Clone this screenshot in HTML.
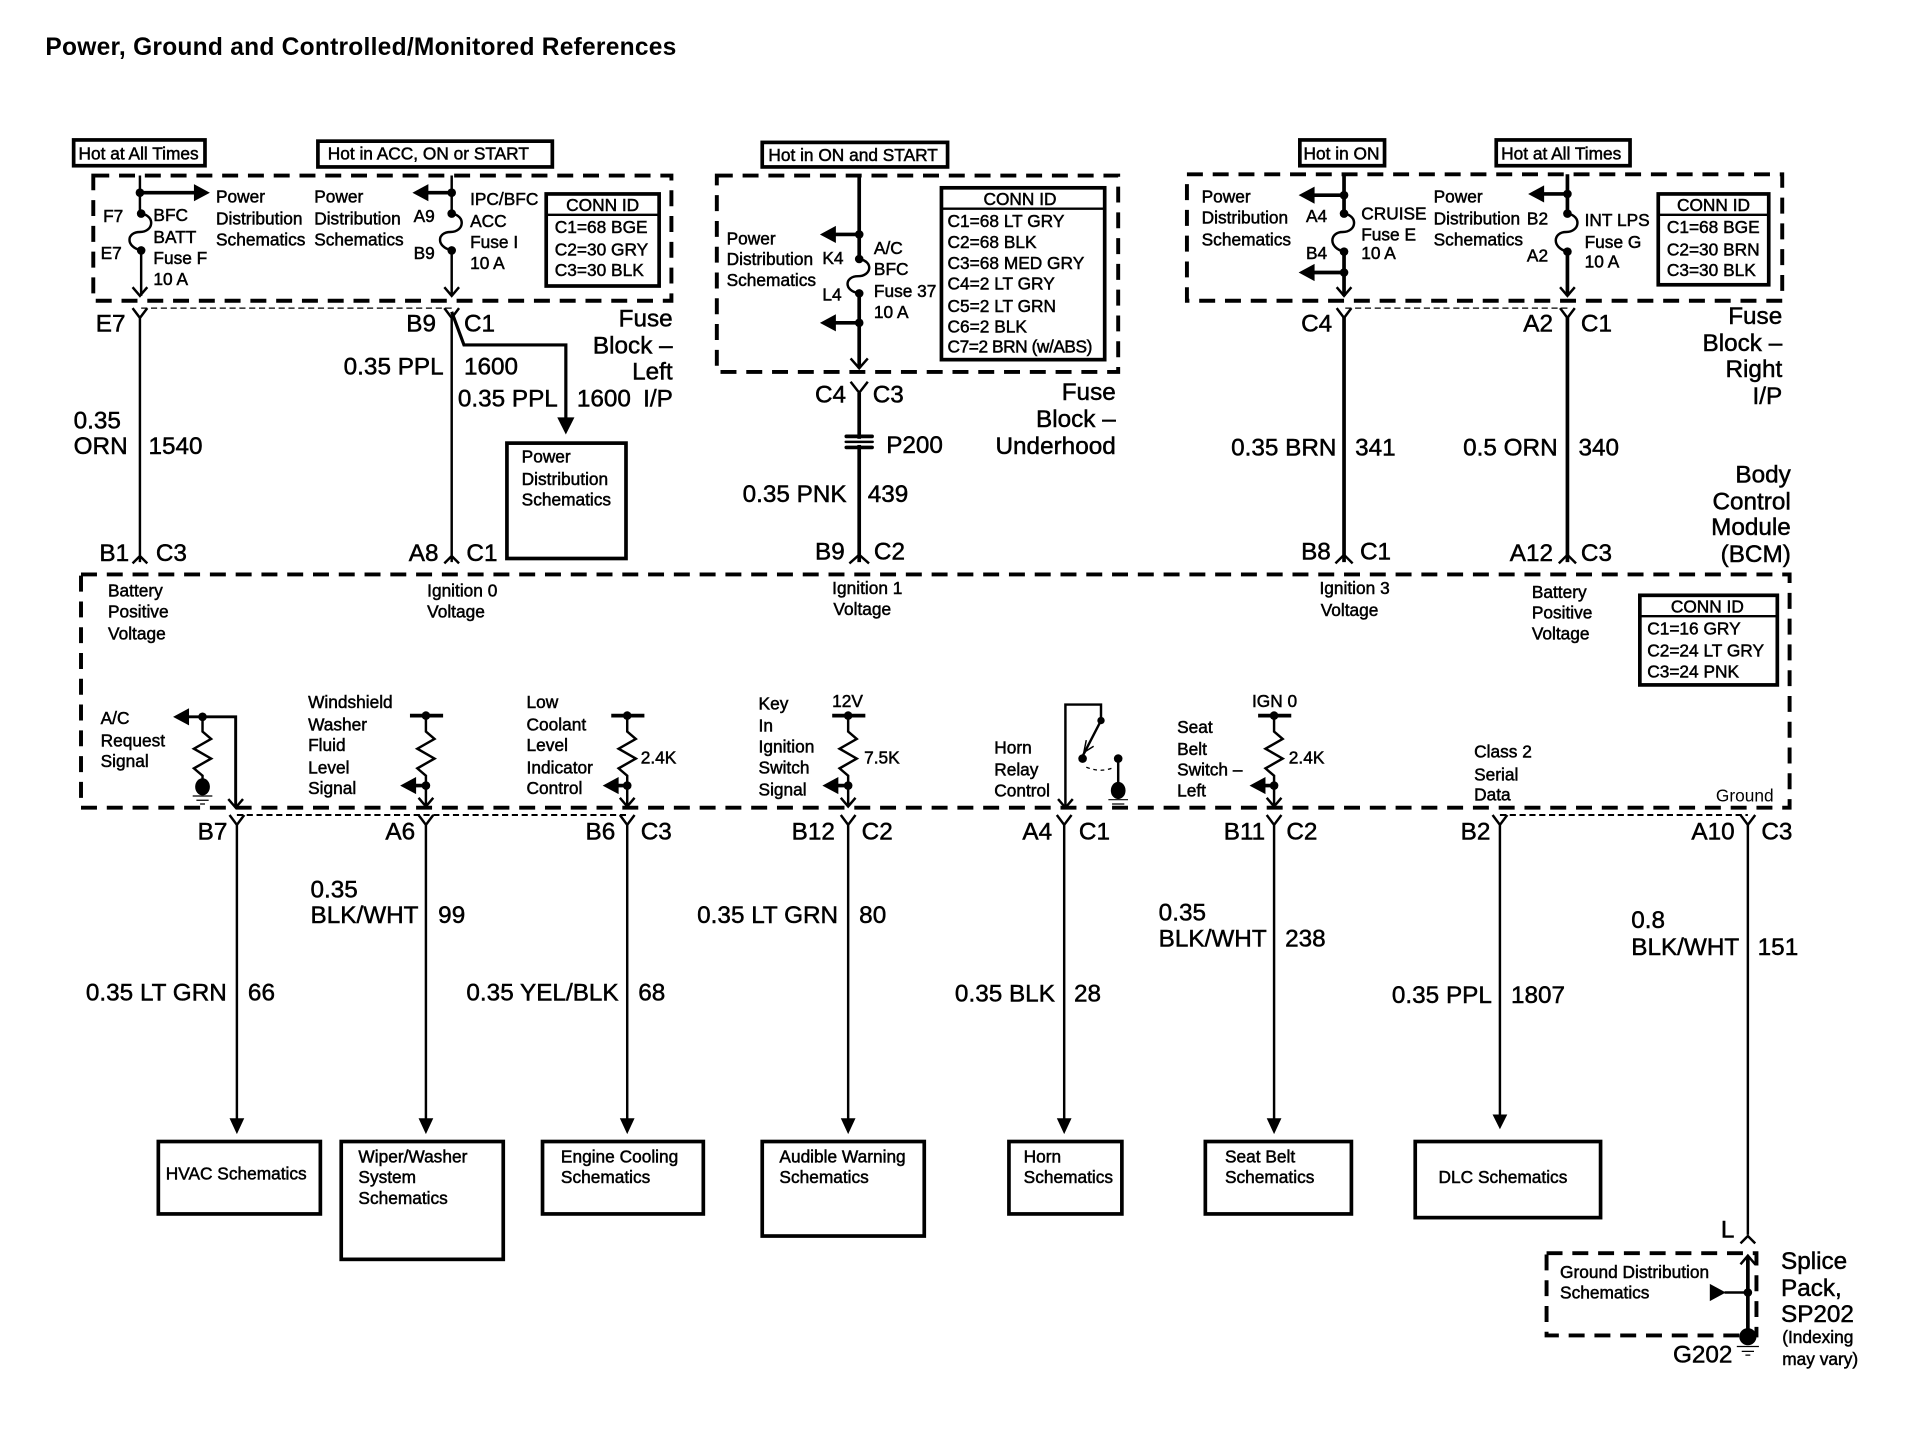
<!DOCTYPE html>
<html><head><meta charset="utf-8"><title>Power, Ground and Controlled/Monitored References</title>
<style>
html,body{margin:0;padding:0;background:#fff}
svg{display:block}
text{font-family:"Liberation Sans",sans-serif;fill:#000;stroke:#000;stroke-width:.4}
.s{font-size:14.1px}
.l{font-size:19.8px}
.e{text-anchor:end}
.c{text-anchor:middle}
.w{fill:none;stroke:#000;stroke-width:2}
.t{fill:none;stroke:#000;stroke-width:3}
.b{fill:#fff;stroke:#000;stroke-width:3}
.d{fill:none;stroke:#000;stroke-width:3.2;stroke-dasharray:13 8}
.h{fill:none;stroke:#000;stroke-width:1;stroke-dasharray:5 3}
</style></head><body>
<svg xmlns="http://www.w3.org/2000/svg" width="1924" height="1456" viewBox="0 0 1567.500 1186.200">
<rect width="1568" height="1187" fill="#fff"/>
<text x="37" y="45" font-size="20" font-weight="bold" textLength="514" style="stroke-width:0">Power, Ground and Controlled/Monitored References</text>

<!-- header boxes -->
<rect class="b" x="60" y="114" width="107" height="21"/><text class="s" x="64" y="130">Hot at All Times</text>
<rect class="b" x="259" y="115" width="191" height="21"/><text class="s" x="267" y="130">Hot in ACC, ON or START</text>
<rect class="b" x="621" y="116" width="151" height="20"/><text class="s" x="626" y="131">Hot in ON and START</text>
<rect class="b" x="1059" y="114" width="69" height="21"/><text class="s" x="1062" y="130">Hot in ON</text>
<rect class="b" x="1219" y="114" width="109" height="21"/><text class="s" x="1223" y="130">Hot at All Times</text>

<!-- dashed enclosures -->
<rect class="d" x="76" y="143" width="471" height="102"/>
<rect class="d" x="584" y="143" width="327" height="160"/>
<rect class="d" x="967" y="142" width="485" height="103"/>
<rect class="d" x="66" y="468" width="1392" height="190"/>
<rect class="d" x="1260" y="1021" width="171" height="67" stroke-dasharray="12 8"/>
<path class="h" d="M115 251H368M1096 251H1277"/>
<path class="h" style="stroke-width:1.6" d="M193 664H511M1222 664H1424"/>

<!-- fuse block left -->
<path class="w" d="M114 143V174M115 204V241M108 234L114 241L120 234"/>
<circle cx="114" cy="157" r="3.5"/><circle cx="115" cy="174" r="3.5"/><circle cx="115" cy="204" r="3.5"/>
<path class="w" d="M115 174C127 176 125 189 114 189C103 189 102 201 115 204"/>
<path class="t" d="M114 157H160"/><path d="M158 150L171 157L158 164Z"/>
<text class="s" x="84" y="181">F7</text><text class="s" x="82" y="211">E7</text>
<text class="s" x="125" y="180">BFC</text><text class="s" x="125" y="198">BATT</text><text class="s" x="125" y="215">Fuse F</text><text class="s" x="125" y="232">10 A</text>
<text class="s" x="176" y="165">Power</text><text class="s" x="176" y="183">Distribution</text><text class="s" x="176" y="200">Schematics</text>
<text class="s" x="256" y="165">Power</text><text class="s" x="256" y="183">Distribution</text><text class="s" x="256" y="200">Schematics</text>

<path class="w" d="M368 143V174M368 204V241M362 234L368 241L374 234"/>
<circle cx="368" cy="157" r="3.5"/><circle cx="368" cy="174" r="3.5"/><circle cx="368" cy="204" r="3.5"/>
<path class="w" d="M368 174C380 176 378 189 367 189C356 189 355 201 368 204"/>
<path class="t" d="M368 157H345"/><path d="M349 150L336 157L349 164Z"/>
<text class="s" x="337" y="181">A9</text><text class="s" x="337" y="211">B9</text>
<text class="s" x="383" y="167">IPC/BFC</text><text class="s" x="383" y="185">ACC</text><text class="s" x="383" y="202">Fuse I</text><text class="s" x="383" y="219">10 A</text>
<rect class="b" x="445" y="158" width="92" height="75"/><path class="w" d="M445 175H537"/>
<text class="s c" x="491" y="172">CONN ID</text>
<text class="s" x="452" y="190">C1=68 BGE</text><text class="s" x="452" y="208">C2=30 GRY</text><text class="s" x="452" y="225">C3=30 BLK</text>

<!-- left wires -->
<path class="w" d="M108 251L114 259L120 251M114 259V458M108 459L114 453L120 459"/>
<path class="w" d="M362 251L368 259L374 251M368 259V458M362 459L368 453L374 459"/>
<path class="w" d="M368 254L378 281H461V345" style="stroke-width:2.6"/><path d="M454 340H468L461 354Z"/>
<rect class="b" x="413" y="361" width="97" height="94"/>
<text class="s" x="425" y="377">Power</text><text class="s" x="425" y="395">Distribution</text><text class="s" x="425" y="412">Schematics</text>
<text class="l" x="78" y="270">E7</text><text class="l" x="331" y="270">B9</text><text class="l" x="378" y="270">C1</text>
<text class="l" x="280" y="305">0.35 PPL</text><text class="l" x="378" y="305">1600</text>
<text class="l" x="373" y="331">0.35 PPL</text><text class="l" x="470" y="331">1600</text><text class="l" x="524" y="331">I/P</text>
<text class="l e" x="548" y="266">Fuse</text><text class="l e" x="548" y="288">Block –</text><text class="l e" x="548" y="309">Left</text>
<text class="l" x="60" y="349">0.35</text><text class="l" x="60" y="370">ORN</text><text class="l" x="121" y="370">1540</text>
<text class="l" x="81" y="457">B1</text><text class="l" x="127" y="457">C3</text><text class="l" x="333" y="457">A8</text><text class="l" x="380" y="457">C1</text>

<!-- underhood -->
<path class="t" d="M700 143V211M700 239V300"/><path class="w" d="M693 292L700 300L707 292"/>
<circle cx="700" cy="191" r="3.5"/><circle cx="700" cy="263" r="3.5"/><circle cx="700" cy="211" r="3.5"/><circle cx="700" cy="239" r="3.5"/>
<path class="w" d="M700 211C712 213 710 225 699 225C688 225 687 237 700 239"/>
<path class="t" d="M700 191H678M700 263H678"/><path d="M681 184L668 191L681 198ZM681 256L668 263L681 270Z"/>
<text class="s" x="592" y="199">Power</text><text class="s" x="592" y="216">Distribution</text><text class="s" x="592" y="233">Schematics</text>
<text class="s" x="670" y="215">K4</text><text class="s" x="670" y="245">L4</text>
<text class="s" x="712" y="207">A/C</text><text class="s" x="712" y="224">BFC</text><text class="s" x="712" y="242">Fuse 37</text><text class="s" x="712" y="259">10 A</text>
<rect class="b" x="767" y="153" width="133" height="140"/><path class="w" d="M767 170H900"/>
<text class="s c" x="831" y="167">CONN ID</text>
<text class="s" x="772" y="185">C1=68 LT GRY</text><text class="s" x="772" y="202">C2=68 BLK</text><text class="s" x="772" y="219">C3=68 MED GRY</text><text class="s" x="772" y="236">C4=2 LT GRY</text><text class="s" x="772" y="254">C5=2 LT GRN</text><text class="s" x="772" y="271">C6=2 BLK</text><text class="s" x="772" y="287" textLength="118">C7=2 BRN (w/ABS)</text>
<path class="t" d="M700 320V458"/><path class="w" d="M693 311L700 320L707 311M692 459L700 452L708 459"/>
<rect x="690" y="357.500" width="20" height="5" fill="#fff"/>
<rect x="688" y="354" width="24" height="3" rx="1.500"/><rect x="688" y="359" width="24" height="2" rx="1"/><rect x="688" y="363" width="24" height="3" rx="1.500"/>
<text class="l" x="664" y="328">C4</text><text class="l" x="711" y="328">C3</text><text class="l" x="722" y="369">P200</text>
<text class="l e" x="909" y="326">Fuse</text><text class="l e" x="909" y="348">Block –</text><text class="l e" x="909" y="370">Underhood</text>
<text class="l" x="605" y="409">0.35 PNK</text><text class="l" x="707" y="409">439</text>
<text class="l" x="664" y="456">B9</text><text class="l" x="712" y="456">C2</text>

<!-- fuse block right -->
<path class="t" d="M1095 142V174M1095 205V241"/><path class="w" d="M1089 234L1095 241L1101 234"/>
<circle cx="1095" cy="159" r="3.5"/><circle cx="1095" cy="174" r="3.5"/><circle cx="1095" cy="205" r="3.5"/><circle cx="1095" cy="222" r="3.5"/>
<path class="w" d="M1095 174C1107 176 1105 189 1094 189C1083 189 1082 202 1095 205"/>
<path class="t" d="M1095 159H1068M1095 222H1068"/><path d="M1071 152L1058 159L1071 166ZM1071 215L1058 222L1071 229Z"/>
<text class="s" x="979" y="165">Power</text><text class="s" x="979" y="182">Distribution</text><text class="s" x="979" y="200">Schematics</text>
<text class="s" x="1064" y="181">A4</text><text class="s" x="1064" y="211">B4</text>
<text class="s" x="1109" y="179">CRUISE</text><text class="s" x="1109" y="196">Fuse E</text><text class="s" x="1109" y="211">10 A</text>
<text class="s" x="1168" y="165">Power</text><text class="s" x="1168" y="183">Distribution</text><text class="s" x="1168" y="200">Schematics</text>
<text class="s" x="1244" y="183">B2</text><text class="s" x="1244" y="213">A2</text>
<path class="t" d="M1277 142V174M1277 205V241"/><path class="w" d="M1271 234L1277 241L1283 234"/>
<circle cx="1277" cy="158" r="3.5"/><circle cx="1277" cy="174" r="3.5"/><circle cx="1277" cy="205" r="3.5"/>
<path class="w" d="M1277 174C1289 176 1287 189 1276 189C1265 189 1264 202 1277 205"/>
<path class="t" d="M1277 158H1255"/><path d="M1258 151L1245 158L1258 165Z"/>
<text class="s" x="1291" y="184">INT LPS</text><text class="s" x="1291" y="202">Fuse G</text><text class="s" x="1291" y="218">10 A</text>
<rect class="b" x="1351" y="158" width="90" height="74"/><path class="w" d="M1351 175H1441"/>
<text class="s c" x="1396" y="172">CONN ID</text>
<text class="s" x="1358" y="190">C1=68 BGE</text><text class="s" x="1358" y="208">C2=30 BRN</text><text class="s" x="1358" y="225">C3=30 BLK</text>
<path class="t" d="M1095 258V458M1277 258V458"/>
<path class="w" d="M1089 251L1095 259L1101 251M1271 251L1277 259L1283 251M1088 459L1095 452L1102 459M1270 459L1277 452L1284 459"/>
<text class="l" x="1060" y="270">C4</text><text class="l" x="1241" y="270">A2</text><text class="l" x="1288" y="270">C1</text>
<text class="l e" x="1452" y="264">Fuse</text><text class="l e" x="1452" y="286">Block –</text><text class="l e" x="1452" y="307">Right</text><text class="l e" x="1452" y="329">I/P</text>
<text class="l" x="1003" y="371">0.35 BRN</text><text class="l" x="1104" y="371">341</text><text class="l" x="1192" y="371">0.5 ORN</text><text class="l" x="1286" y="371">340</text>
<text class="l e" x="1459" y="393">Body</text><text class="l e" x="1459" y="415">Control</text><text class="l e" x="1459" y="436">Module</text><text class="l e" x="1459" y="458">(BCM)</text>
<text class="l" x="1060" y="456">B8</text><text class="l" x="1108" y="456">C1</text><text class="l" x="1230" y="457">A12</text><text class="l" x="1288" y="457">C3</text>

<!-- BCM upper text -->
<text class="s" x="88" y="486">Battery</text><text class="s" x="88" y="503">Positive</text><text class="s" x="88" y="521">Voltage</text>
<text class="s" x="348" y="486">Ignition 0</text><text class="s" x="348" y="503">Voltage</text>
<text class="s" x="678" y="484">Ignition 1</text><text class="s" x="679" y="501">Voltage</text>
<text class="s" x="1075" y="484">Ignition 3</text><text class="s" x="1076" y="502">Voltage</text>
<text class="s" x="1248" y="487">Battery</text><text class="s" x="1248" y="504">Positive</text><text class="s" x="1248" y="521">Voltage</text>
<rect class="b" x="1336" y="485" width="112" height="73"/><path class="w" d="M1336 502H1448"/>
<text class="s c" x="1391" y="499">CONN ID</text>
<text class="s" x="1342" y="517">C1=16 GRY</text><text class="s" x="1342" y="535">C2=24 LT GRY</text><text class="s" x="1342" y="552">C3=24 PNK</text>

<!-- BCM lower: A/C -->
<text class="s" x="82" y="590">A/C</text><text class="s" x="82" y="608">Request</text><text class="s" x="82" y="625">Signal</text>
<path class="t" d="M150 584H192V658" style="stroke-width:2.4"/><path d="M154 577L141 584L154 591Z"/>
<path class="w" d="M186 651L192 658L198 651"/><circle cx="165" cy="584" r="3.5"/>
<path class="w" d="M165 584V596L172 602L158 610L172 618L158 626L165 632V638"/>
<ellipse cx="165" cy="641" rx="6" ry="7"/><path d="M157 648.500H173M160 652H170M163 655H167" stroke="#000" stroke-width="1"/>

<!-- Washer -->
<text class="s" x="251" y="577">Windshield</text><text class="s" x="251" y="595">Washer</text><text class="s" x="251" y="612">Fluid</text><text class="s" x="251" y="630">Level</text><text class="s" x="251" y="647">Signal</text>
<path class="t" d="M334 583H361M347 640H335"/><circle cx="347" cy="583" r="3.5"/><circle cx="347" cy="640" r="3.5"/><path d="M339 633L326 640L339 647Z"/>
<path class="w" d="M347 583V596L354 602L340 610L354 618L340 626L347 632V657M341 650L347 657L353 650"/>

<!-- Coolant -->
<text class="s" x="429" y="577">Low</text><text class="s" x="429" y="595">Coolant</text><text class="s" x="429" y="612">Level</text><text class="s" x="429" y="630">Indicator</text><text class="s" x="429" y="647">Control</text>
<path class="t" d="M498 583H525M511 640H500"/><circle cx="511" cy="583" r="3.5"/><circle cx="511" cy="640" r="3.5"/><path d="M504 633L491 640L504 647Z"/>
<path class="w" d="M511 583V596L518 602L504 610L518 618L504 626L511 632V657M505 650L511 657L517 650"/>
<text class="s" x="522" y="622">2.4K</text>

<!-- Key -->
<text class="s" x="618" y="578">Key</text><text class="s" x="618" y="596">In</text><text class="s" x="618" y="613">Ignition</text><text class="s" x="618" y="630">Switch</text><text class="s" x="618" y="648">Signal</text>
<text class="s" x="678" y="576">12V</text>
<path class="t" d="M678 583H705M691 640H680"/><circle cx="691" cy="583" r="3.5"/><circle cx="691" cy="640" r="3.5"/><path d="M683 633L670 640L683 647Z"/>
<path class="w" d="M691 583V596L698 602L684 610L698 618L684 626L691 632V657M685 650L691 657L697 650"/>
<text class="s" x="704" y="622">7.5K</text>

<!-- Horn -->
<text class="s" x="810" y="614">Horn</text><text class="s" x="810" y="632">Relay</text><text class="s" x="810" y="649">Control</text>
<path class="w" d="M868 658V574H897V587L881 618" /><path class="w" d="M862 651L868 658L874 651"/>
<path class="w" d="M885 603L883 613L891 608" style="stroke-width:1.2"/>
<circle cx="897" cy="587" r="3"/><circle cx="882" cy="618" r="3.500"/><circle cx="911" cy="618" r="3.500"/>
<path d="M885 625Q897 630 908 625" fill="none" stroke="#000" stroke-width="1" stroke-dasharray="3 3"/>
<path class="w" d="M911 618V640"/><ellipse cx="911" cy="644" rx="6" ry="7"/><path d="M903 651.500H919M906 655H916M909 658H913" stroke="#000" stroke-width="1"/>

<!-- Seat -->
<text class="s" x="959" y="597">Seat</text><text class="s" x="959" y="615">Belt</text><text class="s" x="959" y="632">Switch –</text><text class="s" x="959" y="649">Left</text>
<text class="s" x="1020" y="576">IGN 0</text>
<path class="t" d="M1025 583H1052M1038 640H1028"/><circle cx="1038" cy="583" r="3.5"/><circle cx="1038" cy="640" r="3.5"/><path d="M1031 633L1018 640L1031 647Z"/>
<path class="w" d="M1038 583V596L1045 602L1031 610L1045 618L1031 626L1038 632V657M1032 650L1038 657L1044 650"/>
<text class="s" x="1050" y="622">2.4K</text>

<text class="s" x="1201" y="617">Class 2</text><text class="s" x="1201" y="636">Serial</text><text class="s" x="1201" y="652">Data</text>
<text class="s" x="1398" y="653" style="stroke-width:0">Ground</text>

<!-- lower wires -->
<path class="w" d="M187 664L193 672L199 664M193 672V913M341 664L347 672L353 664M347 672V913M505 664L511 672L517 664M511 672V913M685 664L691 672L697 664M691 672V913M861 664L867 672L873 664M867 672V913M1032 664L1038 672L1044 664M1038 672V913M1216 664L1222 672L1228 664M1222 672V911M1418 664L1424 672L1430 664M1424 672V1006"/>
<path d="M187 911H199L193 924ZM341 911H353L347 924ZM505 911H517L511 924ZM685 911H697L691 924ZM861 911H873L867 924ZM1032 911H1044L1038 924ZM1216 908H1228L1222 920Z"/>
<path class="w" d="M1418 1013L1424 1007L1430 1013"/>

<text class="l" x="161" y="684">B7</text><text class="l" x="314" y="684">A6</text><text class="l" x="477" y="684">B6</text><text class="l" x="522" y="684">C3</text>
<text class="l" x="645" y="684">B12</text><text class="l" x="702" y="684">C2</text><text class="l" x="833" y="684">A4</text><text class="l" x="879" y="684">C1</text>
<text class="l" x="997" y="684">B11</text><text class="l" x="1048" y="684">C2</text><text class="l" x="1190" y="684">B2</text><text class="l" x="1378" y="684">A10</text><text class="l" x="1435" y="684">C3</text>

<text class="l" x="70" y="815">0.35 LT GRN</text><text class="l" x="202" y="815">66</text>
<text class="l" x="253" y="731">0.35</text><text class="l" x="253" y="752">BLK/WHT</text><text class="l" x="357" y="752">99</text>
<text class="l" x="380" y="815">0.35 YEL/BLK</text><text class="l" x="520" y="815">68</text>
<text class="l" x="568" y="752">0.35 LT GRN</text><text class="l" x="700" y="752">80</text>
<text class="l" x="778" y="816">0.35 BLK</text><text class="l" x="875" y="816">28</text>
<text class="l" x="944" y="750">0.35</text><text class="l" x="944" y="771">BLK/WHT</text><text class="l" x="1047" y="771">238</text>
<text class="l" x="1134" y="817">0.35 PPL</text><text class="l" x="1231" y="817">1807</text>
<text class="l" x="1329" y="756">0.8</text><text class="l" x="1329" y="778">BLK/WHT</text><text class="l" x="1432" y="778">151</text>

<!-- destination boxes -->
<rect class="b" x="129" y="930" width="132" height="59"/><text class="s" x="135" y="961">HVAC Schematics</text>
<rect class="b" x="278" y="930" width="132" height="96"/><text class="s" x="292" y="947">Wiper/Washer</text><text class="s" x="292" y="964">System</text><text class="s" x="292" y="981">Schematics</text>
<rect class="b" x="442" y="930" width="131" height="59"/><text class="s" x="457" y="947">Engine Cooling</text><text class="s" x="457" y="964">Schematics</text>
<rect class="b" x="621" y="930" width="132" height="77"/><text class="s" x="635" y="947">Audible Warning</text><text class="s" x="635" y="964">Schematics</text>
<rect class="b" x="822" y="930" width="92" height="59"/><text class="s" x="834" y="947">Horn</text><text class="s" x="834" y="964">Schematics</text>
<rect class="b" x="982" y="930" width="119" height="59"/><text class="s" x="998" y="947">Seat Belt</text><text class="s" x="998" y="964">Schematics</text>
<rect class="b" x="1153" y="930" width="151" height="62"/><text class="s" x="1172" y="964">DLC Schematics</text>

<!-- splice -->
<text class="l" x="1402" y="1008">L</text>
<path class="t" d="M1424 1024V1088"/><path class="w" d="M1424 1053H1405M1418 1030L1424 1023L1430 1030"/>
<circle cx="1424" cy="1053" r="3.5"/><path d="M1393 1046L1406 1053L1393 1060Z"/>
<circle cx="1424" cy="1089" r="7"/><path d="M1415 1097H1433M1419 1101H1429M1422 1104H1426" stroke="#000" stroke-width="1"/>
<text class="s" x="1271" y="1041">Ground Distribution</text><text class="s" x="1271" y="1058">Schematics</text>
<text class="l" x="1451" y="1034">Splice</text><text class="l" x="1451" y="1056">Pack,</text><text class="l" x="1451" y="1077">SP202</text>
<text class="s" x="1452" y="1094">(Indexing</text><text class="s" x="1452" y="1112">may vary)</text>
<text class="l" x="1363" y="1110">G202</text>
</svg>
</body></html>
